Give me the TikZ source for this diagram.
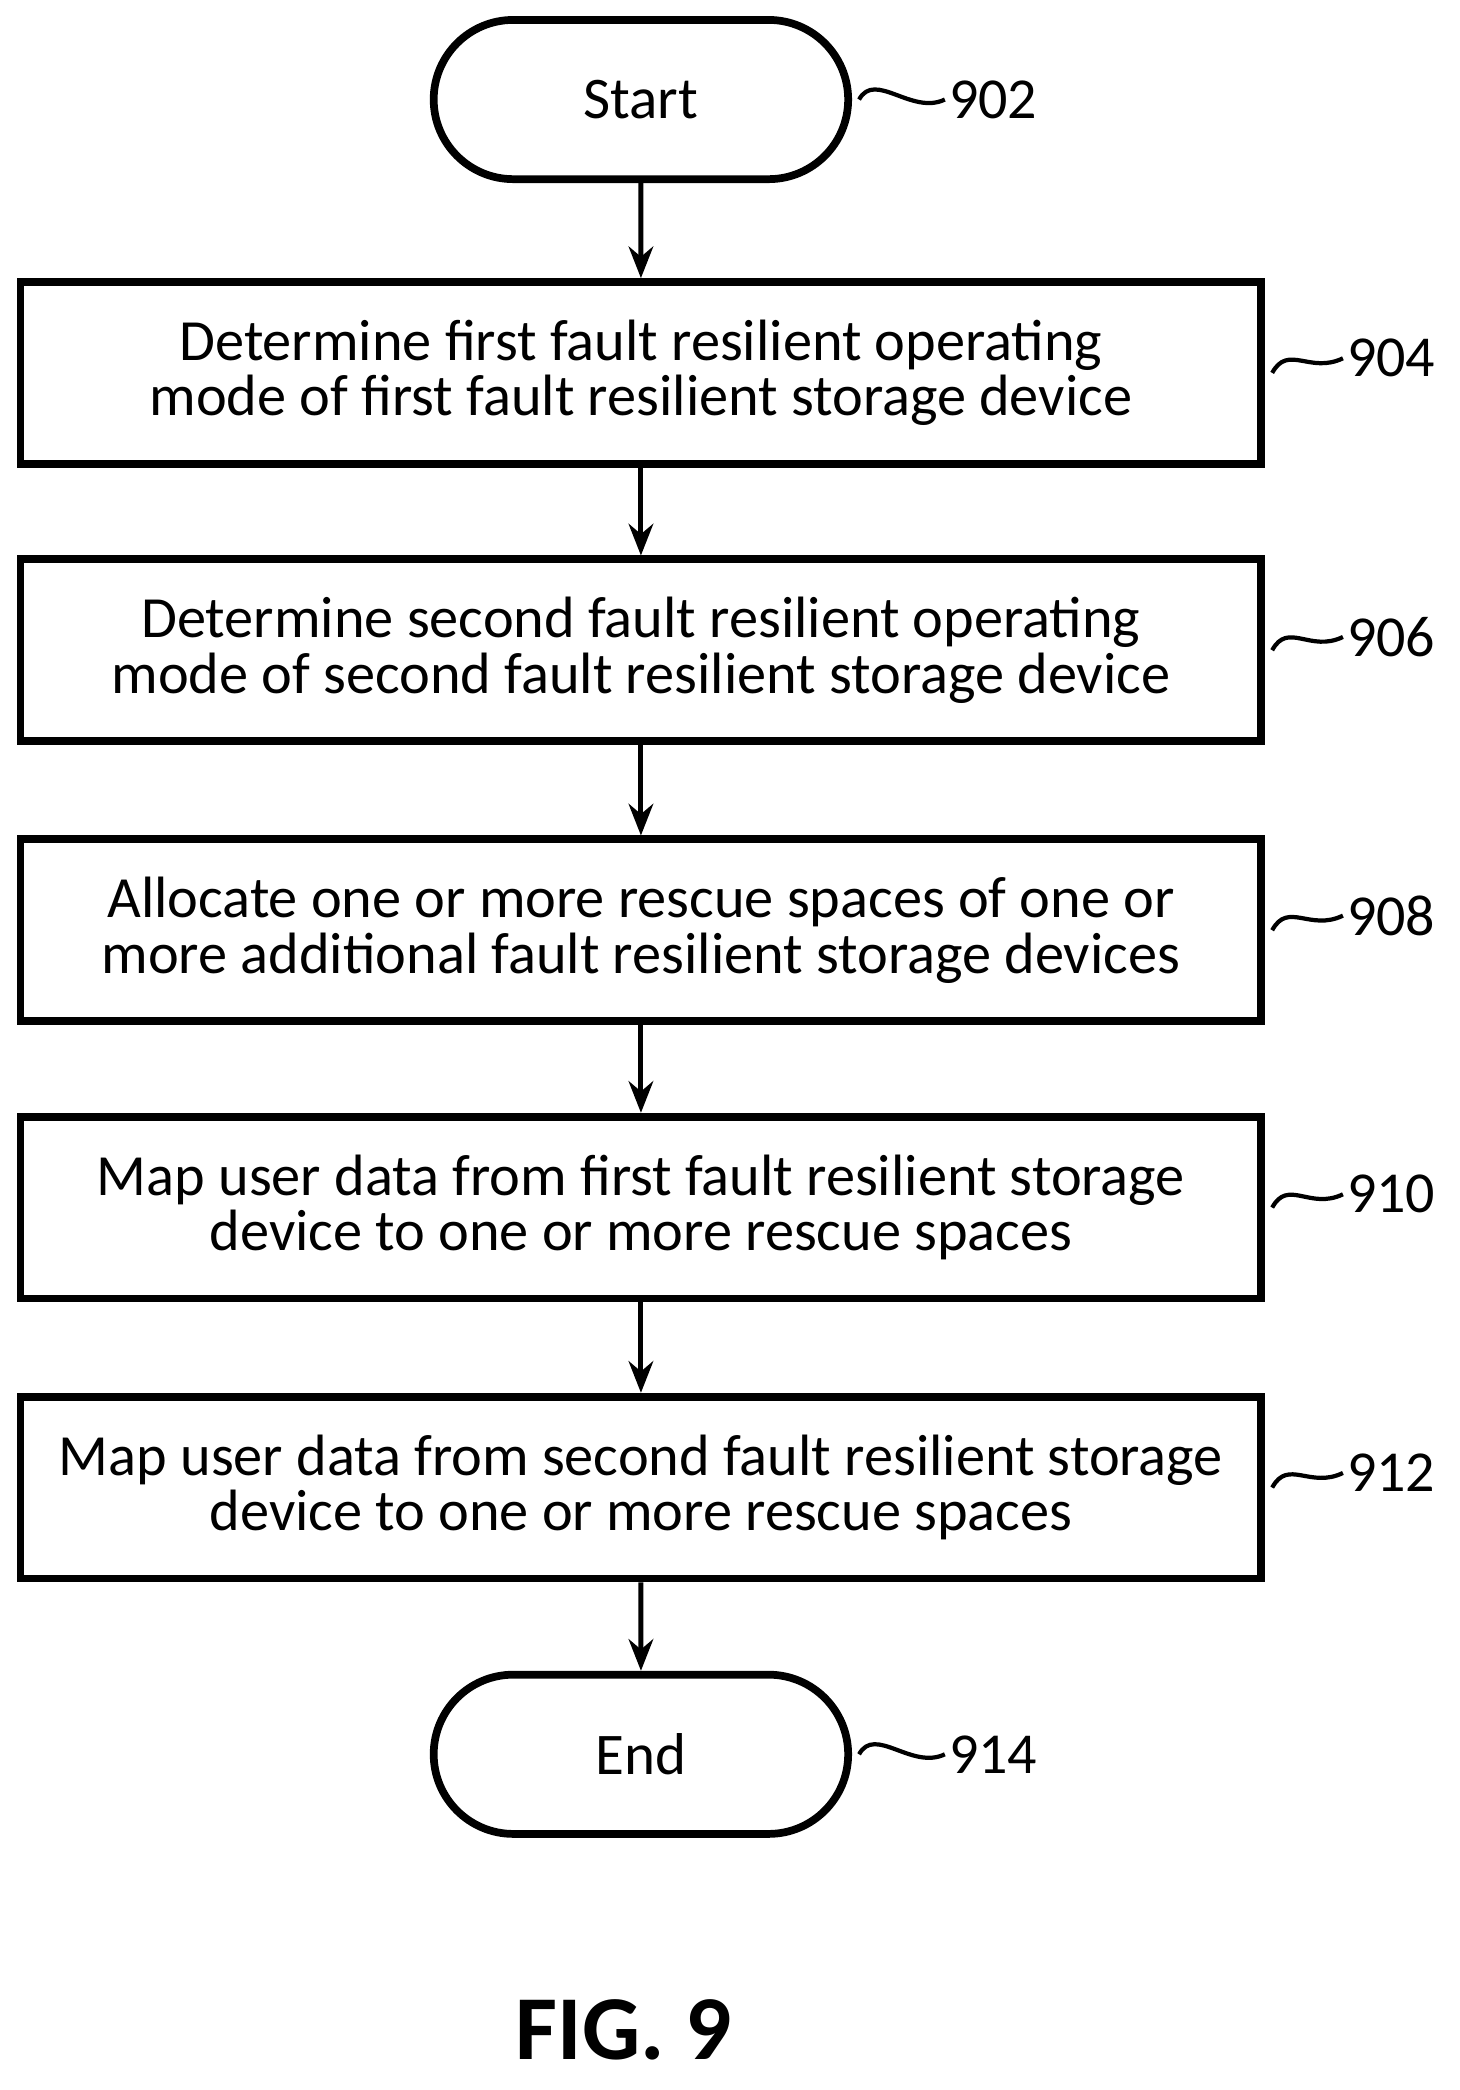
\documentclass[tikz,border=0pt]{standalone}
\usepackage{fontspec}
\setmainfont{Carlito}
\usetikzlibrary{shapes.misc,arrows.meta}
\begin{document}
\begin{tikzpicture}[x=0.01327cm,y=-0.01327cm]
%define
\tikzstyle{term} = [rounded rectangle, minimum width=330*0.01327cm, minimum height=120*0.01327cm, draw=black, line width=2.2pt, font=\fontsize{16.8}{19}\selectfont]
\tikzstyle{stepbox} = [rectangle, minimum width=935*0.01327cm, minimum height=137*0.01327cm, draw=black, line width=2.2pt, align=center, font=\fontsize{16.6}{15.8}\selectfont]
\tikzstyle{lbl} = [anchor=west, inner sep=1pt, font=\fontsize{16.5}{19}\selectfont]
\tikzstyle{arrow} = [-{Stealth[length=9pt,width=7pt]}, line width=1.4pt]
\tikzstyle{lead} = [line width=1.2pt]
\useasboundingbox (0,0) rectangle (1100,1575);

\node[term](start) at (483,75){Start};
\node[stepbox](s904) at (483,281){Determine first fault resilient operating\\mode of first fault resilient storage device};
\node[stepbox](s906) at (483,490){Determine second fault resilient operating\\mode of second fault resilient storage device};
\node[stepbox](s908) at (483,701){Allocate one or more rescue spaces of one or\\more additional fault resilient storage devices};
\node[stepbox](s910) at (483,910){Map user data from first fault resilient storage\\device to one or more rescue spaces};
\node[stepbox](s912) at (483,1121){Map user data from second fault resilient storage\\device to one or more rescue spaces};
\node[term](end) at (483,1322){End};
\node[font=\bfseries\fontsize{26}{30}\selectfont](fig) at (470,1530){FIG. 9};
%labels
\node[lbl](l902) at (712,75){902};
\node[lbl](l904) at (1012,270){904};
\node[lbl](l906) at (1012,480){906};
\node[lbl](l908) at (1012,690){908};
\node[lbl](l910) at (1012,900){910};
\node[lbl](l912) at (1012,1110){912};
\node[lbl](l914) at (712,1322){914};
%lead lines
\foreach \a/\b in {start/l902,s904/l904,s906/l906,s908/l908,s910/l910,s912/l912,end/l914}
  \draw[lead] ([xshift=2pt]\a.east) .. controls +(12,-22) and +(-25,12) .. (\b.west);
%line
\foreach \a/\b in {start/s904,s904/s906,s906/s908,s908/s910,s910/s912,s912/end}
  \draw[arrow](\a)--(\b);
\end{tikzpicture}
\end{document}
